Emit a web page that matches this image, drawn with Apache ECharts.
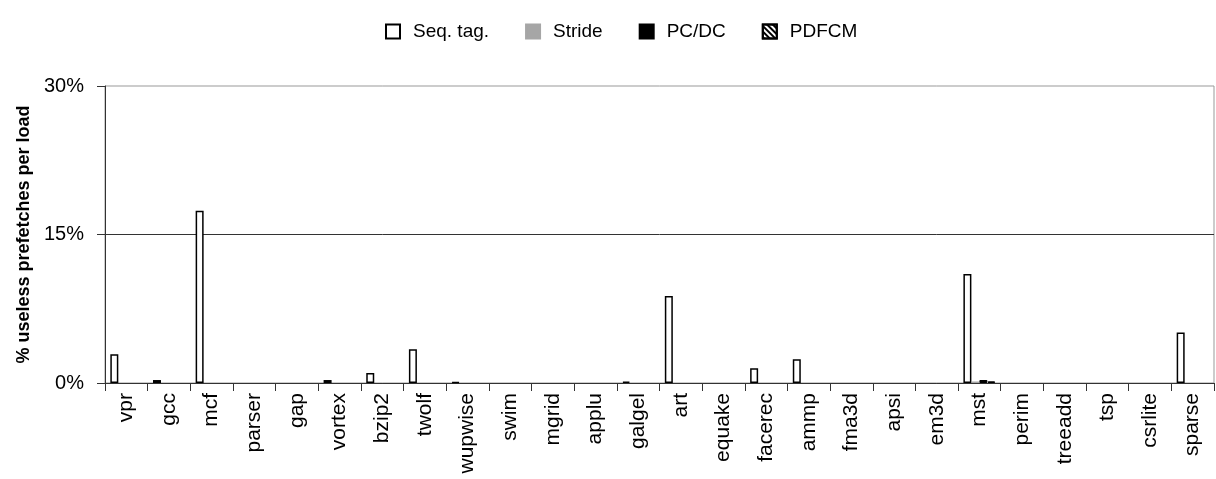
<!DOCTYPE html>
<html>
<head>
<meta charset="utf-8">
<script src="https://cdn.jsdelivr.net/npm/echarts@6/dist/echarts.min.js"></script>
<style>
  html, body { margin: 0; padding: 0; background: #fff; }
  #chart { width: 1216px; height: 479px; }
</style>
</head>
<body>
<div id="chart"></div>
<script>
var categories = ['vpr', 'gcc', 'mcf', 'parser', 'gap', 'vortex', 'bzip2', 'twolf', 'wupwise', 'swim',
    'mgrid', 'applu', 'galgel', 'art', 'equake', 'facerec', 'ammp', 'fma3d', 'apsi', 'em3d',
    'mst', 'perim', 'treeadd', 'tsp', 'csrlite', 'sparse'];
var seqTag = [2.9, 0.3, 17.4, 0, 0, 0.3, 1.0, 3.4, 0.1, 0, 0, 0, 0.15, 8.8, 0, 1.5, 2.4, 0, 0, 0, 11.0, 0, 0, 0, 0, 5.1];
var stride = [0, 0, 0, 0, 0, 0, 0, 0, 0, 0, 0, 0, 0, 0, 0, 0, 0, 0, 0, 0, 0.15, 0, 0, 0, 0, 0];
var pcdc   = [0, 0, 0, 0, 0, 0, 0, 0, 0, 0, 0, 0, 0, 0, 0, 0, 0, 0, 0, 0, 0.3, 0, 0, 0, 0, 0];
var pdfcm  = [0, 0, 0, 0, 0, 0, 0, 0, 0, 0, 0, 0, 0, 0, 0, 0, 0, 0, 0, 0, 0.15, 0, 0, 0, 0, 0];
var yTicks = [0, 15, 30];

var font = "'Liberation Sans', Arial, sans-serif";
var chart = echarts.init(document.getElementById('chart'));

// zero values draw nothing in the original, so leave them empty
function barSeries(name, data, style) {
    return {
        name: name,
        type: 'bar',
        data: data.map(function (v) { return v === 0 ? '-' : v; }),
        barWidth: 8,
        barGap: '0%',
        itemStyle: style
    };
}

var option = {
    animation: false,
    backgroundColor: '#fff',
    textStyle: { fontFamily: font, color: '#000' },
    legend: {
        top: 17,
        left: 380,
        icon: 'rect',
        itemWidth: 14,
        itemHeight: 14,
        itemGap: 36,
        textStyle: { fontFamily: font, fontSize: 19, color: '#000', padding: [0, 0, 0, 8] },
        data: ['Seq. tag.', 'Stride', 'PC/DC', 'PDFCM']
    },
    grid: {
        left: 105,
        right: 2,
        top: 86,
        bottom: 96,
        show: true,
        borderColor: '#999',
        borderWidth: 1
    },
    xAxis: {
        type: 'category',
        data: categories,
        axisLine: { lineStyle: { color: '#333', width: 1 } },
        axisTick: { show: true, length: 8, inside: false, lineStyle: { color: '#333' } },
        axisLabel: { rotate: 90, margin: 10, fontSize: 21, color: '#000', fontFamily: font, interval: 0 }
    },
    yAxis: {
        type: 'value',
        min: yTicks[0],
        max: yTicks[yTicks.length - 1],
        interval: yTicks[1] - yTicks[0],
        name: '% useless prefetches per load',
        nameLocation: 'middle',
        nameGap: 72,
        nameRotate: 90,
        nameTextStyle: { fontSize: 18, fontWeight: 'bold', color: '#000', fontFamily: font },
        axisLine: { show: true, lineStyle: { color: '#333', width: 1 } },
        axisTick: { show: true, length: 8, lineStyle: { color: '#333' } },
        axisLabel: { fontSize: 20, margin: 21, color: '#000', fontFamily: font, formatter: '{value}%' },
        splitLine: { show: true, lineStyle: { color: ['transparent', '#333', 'transparent'], width: 1 } }
    },
    series: [
        barSeries('Seq. tag.', seqTag, { color: '#fff', borderColor: '#000', borderWidth: 1.5 }),
        barSeries('Stride', stride, { color: '#a6a6a6', borderColor: '#a6a6a6', borderWidth: 1 }),
        barSeries('PC/DC', pcdc, { color: '#000', borderColor: '#000', borderWidth: 1 }),
        barSeries('PDFCM', pdfcm, {
            color: '#fff', borderColor: '#000', borderWidth: 1.5,
            decal: { symbol: 'rect', color: '#000', dashArrayX: [1, 0], dashArrayY: [2, 2], rotation: Math.PI / 4 }
        })
    ]
};
chart.setOption(option);
window.addEventListener('resize', function () { chart.resize(); });
</script>
</body>
</html>
